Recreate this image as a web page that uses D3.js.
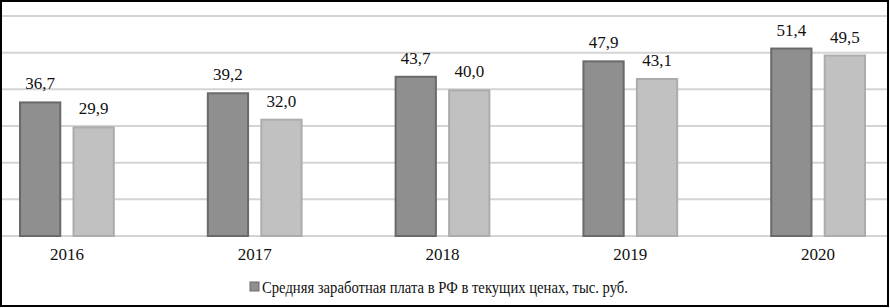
<!DOCTYPE html>
<html>
<head>
<meta charset="utf-8">
<script src="https://cdn.jsdelivr.net/npm/d3@7"></script>
<style>
  body { margin: 0; background: #fff; }
  svg { display: block; }
  text { font-family: "Liberation Serif", "Times New Roman", Tinos, "DejaVu Serif", serif; fill: #111; }
</style>
</head>
<body>
<script>
var w = 890;
var h = 308;

var years = ["2016", "2017", "2018", "2019", "2020"];
var nominal = [36.7, 39.2, 43.7, 47.9, 51.4];
var second = [29.9, 32.0, 40.0, 43.1, 49.5];
var yTicks = [0, 10, 20, 30, 40, 50, 60];
var legendLabel = "Средняя заработная плата в РФ в текущих ценах, тыс. руб.";

var series = [
  {key: "nominal", values: nominal, fill: "#8f8f8f", stroke: "#6a6a6a"},
  {key: "second", values: second, fill: "#c1c1c1", stroke: "#acacac"}
];

var svg = d3.select("body")
  .append("svg")
  .attr("width", w)
  .attr("height", h);

svg.append("clipPath").attr("id", "clip")
  .append("rect").attr("x", 2).attr("y", 2).attr("width", w - 4).attr("height", h - 4);

var g = svg.append("g").attr("clip-path", "url(#clip)");

// the picture is cropped: the plot runs past both edges
var x = d3.scaleBand()
  .domain(years)
  .range([-27, 912])
  .paddingInner(0.49)
  .paddingOuter(0.245);

var x1 = d3.scaleBand()
  .domain(series.map(d => d.key))
  .range([0, x.bandwidth()])
  .paddingInner(0.21);

var y = d3.scaleLinear()
  .domain([0, 60])
  .range([236, 16]);

// gridlines
g.selectAll("line.grid")
  .data(yTicks)
  .enter()
  .append("line")
  .attr("class", "grid")
  .attr("x1", 0)
  .attr("x2", w)
  .attr("y1", d => y(d))
  .attr("y2", d => y(d))
  .attr("stroke", "#d4d4d4")
  .attr("stroke-width", 2);

var groups = g.selectAll("g.year")
  .data(years)
  .enter()
  .append("g")
  .attr("class", "year")
  .attr("transform", d => "translate(" + x(d) + ",0)");

series.forEach(function(s) {
  groups.append("rect")
    .attr("x", x1(s.key) + 1)
    .attr("y", (d, i) => y(s.values[i]) + 1)
    .attr("width", x1.bandwidth() - 2)
    .attr("height", (d, i) => y(0) - y(s.values[i]) - 1)
    .attr("fill", s.fill)
    .attr("stroke", s.stroke)
    .attr("stroke-width", 2);

  groups.append("text")
    .attr("class", "lbl")
    .attr("x", x1(s.key) + x1.bandwidth() / 2)
    .attr("y", (d, i) => y(s.values[i]) - 12)
    .attr("text-anchor", "middle")
    .attr("font-size", 17)
    .text((d, i) => d3.format(".1f")(s.values[i]).replace(".", ","));
});

// x axis labels
var xAxis = d3.axisBottom(x).tickSize(0).tickPadding(0);
var ax = g.append("g")
  .attr("transform", "translate(0,248)")
  .call(xAxis)
  .attr("font-family", null);
ax.select(".domain").remove();
ax.selectAll("text")
  .attr("font-size", 17)
  .attr("dy", "0.71em")
  .attr("fill", "#111");

// legend
var leg = svg.append("g").attr("transform", "translate(250,282)");
leg.append("rect")
  .attr("width", 9)
  .attr("height", 9)
  .attr("fill", series[0].fill)
  .attr("stroke", series[0].stroke);
leg.append("text")
  .attr("x", 12)
  .attr("y", 11)
  .attr("font-size", 17)
  .attr("textLength", 366)
  .attr("lengthAdjust", "spacingAndGlyphs")
  .text(legendLabel);

// frame
svg.append("rect")
  .attr("x", 1)
  .attr("y", 1)
  .attr("width", w - 3)
  .attr("height", h - 3)
  .attr("fill", "none")
  .attr("stroke", "#000")
  .attr("stroke-width", 2);
</script>
</body>
</html>
